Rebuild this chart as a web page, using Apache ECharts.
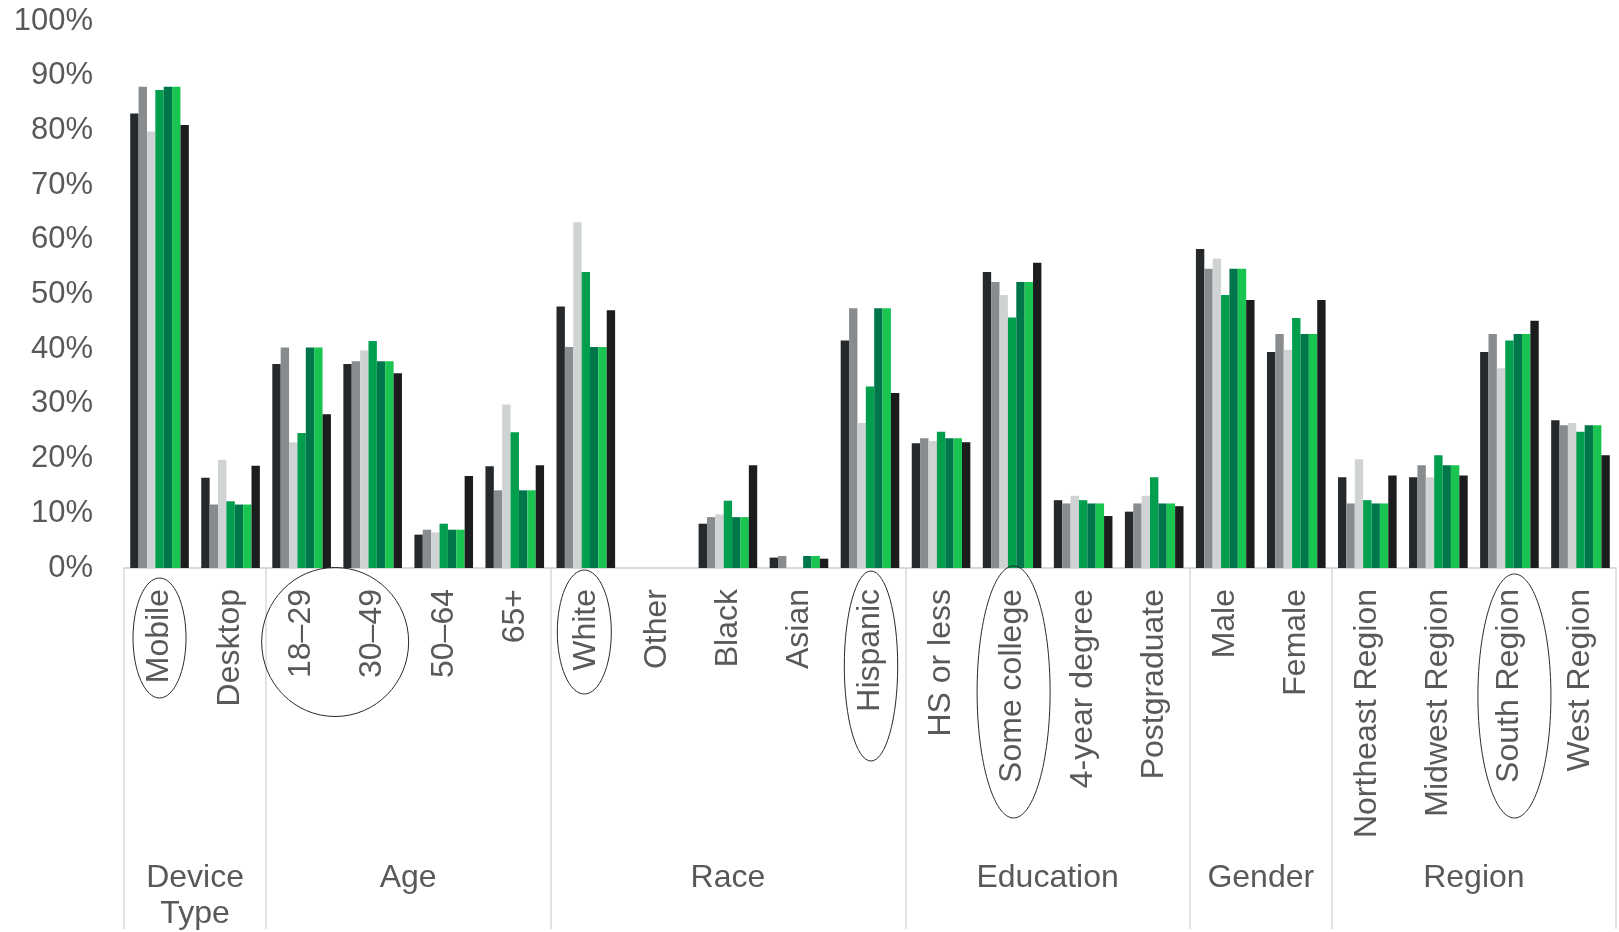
<!DOCTYPE html>
<html>
<head>
<meta charset="utf-8">
<script src="https://cdn.jsdelivr.net/npm/echarts@6/dist/echarts.min.js"></script>
<style>
  html, body { margin: 0; padding: 0; background: #fff; }
  #chart { width: 1619px; height: 932px; }
</style>
</head>
<body>
<div id="chart"></div>
<script>
// ---- Data ----
const categories = ['Mobile', 'Desktop', '18\u201329', '30\u201349', '50\u201364', '65+',
  'White', 'Other', 'Black', 'Asian', 'Hispanic',
  'HS or less', 'Some college', '4-year degree', 'Postgraduate',
  'Male', 'Female',
  'Northeast Region', 'Midwest Region', 'South Region', 'West Region'];

const groupNames = ['Device\nType', 'Age', 'Race', 'Education', 'Gender', 'Region'];
const groupSizes = [2, 4, 5, 4, 2, 4];

const yTicks = [0, 10, 20, 30, 40, 50, 60, 70, 80, 90, 100];

const series1 = [83.1, 16.5, 37.3, 37.3, 6.1, 18.6, 47.8, 0, 8.1, 1.9, 41.6, 22.8, 54.1, 12.4, 10.3, 58.3, 39.5, 16.6, 16.6, 39.5, 27.0];
const series2 = [88.0, 11.6, 40.3, 37.8, 7.0, 14.2, 40.4, 0, 9.3, 2.2, 47.5, 23.7, 52.3, 11.8, 11.8, 54.7, 42.8, 11.8, 18.8, 42.8, 26.1];
const series3 = [79.8, 19.8, 23.0, 39.8, 6.5, 29.9, 63.2, 0, 9.8, 0, 26.5, 23.2, 49.9, 13.2, 13.2, 56.6, 39.9, 19.9, 16.6, 36.5, 26.5];
const series4 = [87.4, 12.2, 24.7, 41.5, 8.1, 24.8, 54.1, 0, 12.3, 0, 33.2, 24.9, 45.8, 12.4, 16.6, 49.9, 45.7, 12.4, 20.6, 41.6, 24.9];
const series5 = [88.0, 11.6, 40.3, 37.8, 7.0, 14.2, 40.4, 0, 9.3, 2.2, 47.5, 23.7, 52.3, 11.8, 11.8, 54.7, 42.8, 11.8, 18.8, 42.8, 26.1];
const series6 = [88.0, 11.6, 40.3, 37.8, 7.0, 14.2, 40.4, 0, 9.3, 2.2, 47.5, 23.7, 52.3, 11.8, 11.8, 54.7, 42.8, 11.8, 18.8, 42.8, 26.1];
const series7 = [81.0, 18.7, 28.1, 35.6, 16.8, 18.8, 47.1, 0, 18.8, 1.7, 32.0, 23.0, 55.8, 9.5, 11.3, 49.0, 49.0, 16.9, 16.9, 45.2, 20.6];

const seriesNames = ['Series 1', 'Series 2', 'Series 3', 'Series 4', 'Series 5', 'Series 6', 'Series 7'];
const seriesData = [series1, series2, series3, series4, series5, series6, series7];
const colors = ['#25292C', '#898C8E', '#D0D3D4', '#009E4D', '#00774A', '#19C450', '#1B1C1E'];

// ---- Derived helpers ----
const boundaries = [];
let acc = 0;
groupSizes.forEach(s => { boundaries.push(acc); acc += s; });
const halfPoints = [];
for (let k = 0; k <= categories.length * 2; k++) halfPoints.push('');
acc = 0;
groupSizes.forEach((s, gi) => {
  halfPoints[acc * 2 + s] = groupNames[gi];
  acc += s;
});

const textColor = '#595959';
const lineColor = '#D9D9D9';
const fontFamily = 'Liberation Sans, Arial, sans-serif';

const chart = echarts.init(document.getElementById('chart'), null, { renderer: 'canvas' });

const option = {
  animation: false,
  backgroundColor: '#ffffff',
  color: colors,
  grid: { left: 124, right: 0, top: 21, bottom: 361, containLabel: false },
  xAxis: [
    {
      type: 'category',
      data: categories,
      position: 'bottom',
      axisLine: { show: true, lineStyle: { color: lineColor, width: 2 } },
      axisTick: {
        show: true,
        length: 361,
        interval: function (i) { return boundaries.indexOf(i) >= 0; },
        lineStyle: { color: lineColor, width: 1.5 }
      },
      axisLabel: {
        interval: 0,
        rotate: 90,
        margin: 21,
        fontSize: 32,
        fontFamily: fontFamily,
        color: textColor
      },
      splitLine: { show: false }
    },
    {
      type: 'category',
      data: halfPoints,
      boundaryGap: false,
      position: 'bottom',
      axisLine: { show: false },
      axisTick: { show: false },
      axisLabel: {
        interval: 0,
        margin: 292,
        fontSize: 32,
        lineHeight: 36,
        align: 'center',
        fontFamily: fontFamily,
        color: textColor,
        hideOverlap: false
      },
      splitLine: { show: false }
    }
  ],
  yAxis: {
    type: 'value',
    min: yTicks[0],
    max: yTicks[yTicks.length - 1],
    interval: yTicks[1] - yTicks[0],
    axisLine: { show: false },
    axisTick: { show: false },
    splitLine: { show: false },
    axisLabel: {
      formatter: '{value}%',
      margin: 31,
      fontSize: 31,
      fontFamily: fontFamily,
      color: textColor
    }
  },
  series: seriesData.map((d, i) => ({
    name: seriesNames[i],
    type: 'bar',
    xAxisIndex: 0,
    data: d,
    barGap: '0%',
    barCategoryGap: '17.5%',
    itemStyle: { color: colors[i] }
  }))
};

chart.setOption(option);

// ---- Annotation ellipses around highlighted labels (x from the category axis) ----
function catX(i) { return chart.convertToPixel({ xAxisIndex: 0 }, categories[i]); }
const ellStyle = { fill: 'none', stroke: '#2a2a2a', lineWidth: 1 };
const notes = [
  { x: catX(0), cy: 638, rx: 26.5, ry: 60 },
  { x: (catX(2) + catX(3)) / 2 - 2, cy: 642, rx: 73.5, ry: 74.5 },
  { x: catX(6) - 1.5, cy: 632, rx: 27, ry: 62 },
  { x: catX(10) + 1, cy: 666, rx: 26.7, ry: 95 },
  { x: catX(12) + 1.5, cy: 692, rx: 36.5, ry: 126 },
  { x: catX(19) + 5, cy: 696, rx: 36.5, ry: 122 }
];
chart.setOption({
  graphic: notes.map(n => ({
    type: 'ellipse', silent: true, z: 100,
    shape: { cx: n.x, cy: n.cy, rx: n.rx, ry: n.ry },
    style: ellStyle
  }))
});
</script>
</body>
</html>
